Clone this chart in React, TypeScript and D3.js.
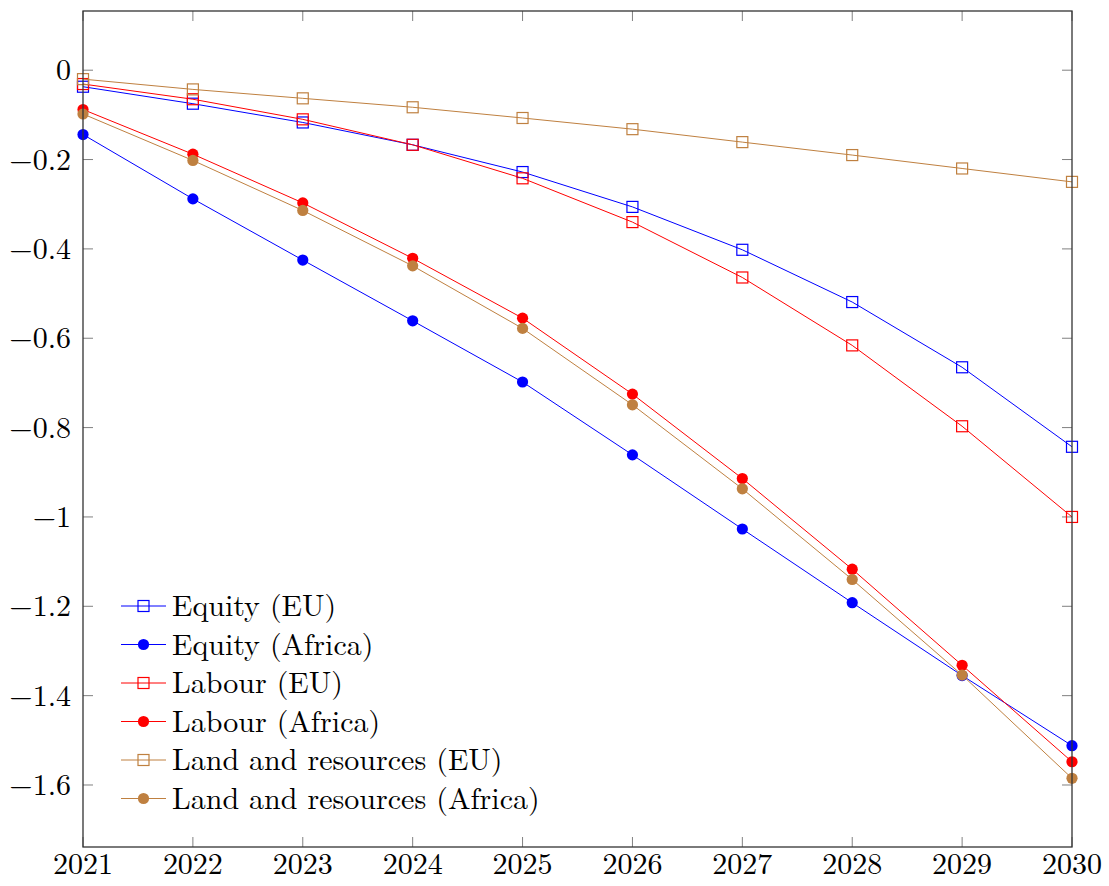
import React from "react";
import * as d3 from "d3";

const years = [2021, 2022, 2023, 2024, 2025, 2026, 2027, 2028, 2029, 2030];
const equityEU = [-0.037, -0.075, -0.117, -0.167, -0.228, -0.306, -0.402, -0.519, -0.665, -0.843];
const equityAfrica = [-0.144, -0.288, -0.425, -0.561, -0.698, -0.861, -1.027, -1.192, -1.355, -1.512];
const labourEU = [-0.031, -0.065, -0.110, -0.167, -0.242, -0.340, -0.464, -0.616, -0.797, -1.0];
const labourAfrica = [-0.088, -0.188, -0.297, -0.421, -0.555, -0.725, -0.914, -1.117, -1.332, -1.548];
const landEU = [-0.020, -0.043, -0.063, -0.083, -0.107, -0.132, -0.161, -0.190, -0.220, -0.250];
const landAfrica = [-0.098, -0.202, -0.314, -0.438, -0.578, -0.749, -0.937, -1.140, -1.354, -1.585];
const yTicks = [0, -0.2, -0.4, -0.6, -0.8, -1, -1.2, -1.4, -1.6];
const seriesNames = [
  "Equity (EU)",
  "Equity (Africa)",
  "Labour (EU)",
  "Labour (Africa)",
  "Land and resources (EU)",
  "Land and resources (Africa)",
];

const BLUE = "#0000ff";
const RED = "#ff0000";
const BROWN = "#bf8040";

const series = [
  { name: seriesNames[0], values: equityEU, color: BLUE, marker: "square" },
  { name: seriesNames[1], values: equityAfrica, color: BLUE, marker: "circle" },
  { name: seriesNames[2], values: labourEU, color: RED, marker: "square" },
  { name: seriesNames[3], values: labourAfrica, color: RED, marker: "circle" },
  { name: seriesNames[4], values: landEU, color: BROWN, marker: "square" },
  { name: seriesNames[5], values: landAfrica, color: BROWN, marker: "circle" },
];

const W = 1109;
const H = 886;
const left = 83;
const right = 1072;
const top = 11;
const bottom = 847;
const FONT = "'Latin Modern Roman', 'CMU Serif', 'Liberation Serif', 'DejaVu Serif', serif";
const FS = 30;

function fmt(v: number) {
  if (v === 0) return "0";
  const s = d3.format("")(Math.abs(+v.toFixed(2))).toString();
  return (v < 0 ? "\u2212" : "") + s;
}

function Marker({ type, x, y, color }: { type: string; x: number; y: number; color: string }) {
  if (type === "square") {
    const s = 11;
    return <rect x={x - s / 2} y={y - s / 2} width={s} height={s} fill="none" stroke={color} strokeWidth={1.2} />;
  }
  return <circle cx={x} cy={y} r={5.6} fill={color} />;
}

export default function App() {
  const x = d3.scaleLinear().domain([2021, 2030]).range([left, right]);
  const y = d3.scaleLinear().domain([-1.7388, 0.1325]).range([bottom, top]);
  const line = d3
    .line<number>()
    .x((_, i) => x(years[i]))
    .y((d) => y(d));

  const legendX = 121;
  const legendY0 = 606;
  const legendStep = 38.5;

  return (
    <svg width={W} height={H} style={{ position: "absolute", left: 0, top: 0, background: "#fff" }} fontFamily={FONT}>
      <rect x={0} y={0} width={W} height={H} fill="#fff" />
      {years.map((yr) => (
        <g key={"xt" + yr} stroke="#808080" strokeWidth={1}>
          <line x1={x(yr)} x2={x(yr)} y1={bottom} y2={bottom - 10} />
          <line x1={x(yr)} x2={x(yr)} y1={top} y2={top + 10} />
        </g>
      ))}
      {yTicks.map((t) => (
        <g key={"yt" + t} stroke="#808080" strokeWidth={1}>
          <line x1={left} x2={left + 10} y1={y(t)} y2={y(t)} />
          <line x1={right} x2={right - 10} y1={y(t)} y2={y(t)} />
        </g>
      ))}
      {series.map((s) => (
        <g key={s.name}>
          <path d={line(s.values) || ""} fill="none" stroke={s.color} strokeWidth={1} />
          {s.values.map((v, i) => (
            <Marker key={i} type={s.marker} x={x(years[i])} y={y(v)} color={s.color} />
          ))}
        </g>
      ))}
      <rect x={left} y={top} width={right - left} height={bottom - top} fill="none" stroke="#333" strokeWidth={1.3} />
      {years.map((yr) => (
        <text key={"xl" + yr} x={x(yr)} y={bottom + 27} textAnchor="middle" fontSize={FS} fill="#000">
          {yr}
        </text>
      ))}
      {yTicks.map((t) => (
        <text key={"yl" + t} x={71} y={y(t) + 10} textAnchor="end" fontSize={FS} fill="#000">
          {fmt(t)}
        </text>
      ))}
      {series.map((s, i) => {
        const ly = legendY0 + i * legendStep;
        return (
          <g key={"lg" + i}>
            <line x1={legendX} x2={legendX + 45} y1={ly} y2={ly} stroke={s.color} strokeWidth={1} />
            <Marker type={s.marker} x={legendX + 22.5} y={ly} color={s.color} />
            <text x={legendX + 51} y={ly + 10} fontSize={FS} fill="#000">
              {s.name}
            </text>
          </g>
        );
      })}
    </svg>
  );
}
